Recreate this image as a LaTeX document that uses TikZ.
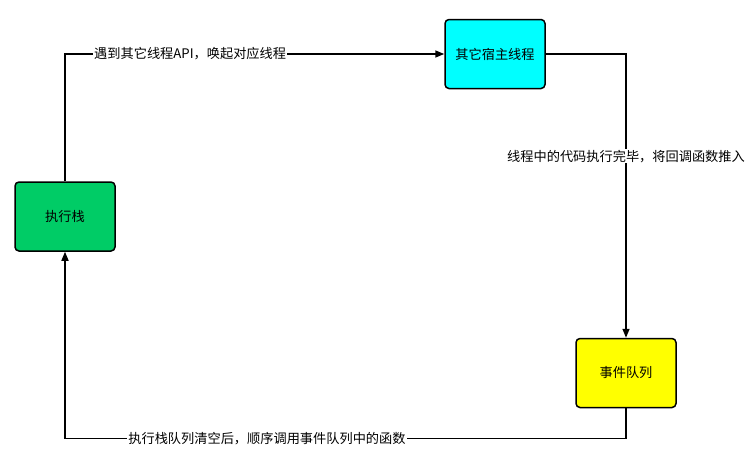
\documentclass[tikz,border=0pt]{standalone}
\usepackage{fontspec}
\setmainfont{Noto Sans CJK SC}
\usetikzlibrary{arrows.meta,positioning}
\definecolor{stackgreen}{RGB}{0,204,102}
\definecolor{hostcyan}{RGB}{0,255,255}
\definecolor{queueyellow}{RGB}{255,255,0}

\begin{document}
\begin{tikzpicture}[x=1pt, y=-1pt, >={Triangle[length=9pt,width=7pt]},
  font=\fontsize{13.2}{15}\selectfont, line width=1.5pt,
  task/.style={draw, line width=1.5pt, rounded corners=4pt, minimum height=69pt, minimum width=100pt, align=center},
  lbl/.style={fill=white, inner sep=1pt}]
  \useasboundingbox (0,0) rectangle (754,466);
  \node[task, fill=stackgreen] (stack) at (65,216.5) {执行栈};
  \node[task, fill=hostcyan] (host) at (495,54) {其它宿主线程};
  \node[task, fill=queueyellow] (queue) at (626,373) {事件队列};
  % 调用其它线程
  \draw[->] (stack.north) |- (host.west) node[lbl, pos=0.665] {遇到其它线程API，唤起对应线程};
  \draw[->] (host.east) -| (queue.north) node[lbl, pos=0.68] {线程中的代码执行完毕，将回调函数推入};
  % 回到执行栈
  \draw[->] (queue.south) -- ++(0,30) -| (stack.south) node[lbl, pos=0.32] {执行栈队列清空后，顺序调用事件队列中的函数};
\end{tikzpicture}
\end{document}
